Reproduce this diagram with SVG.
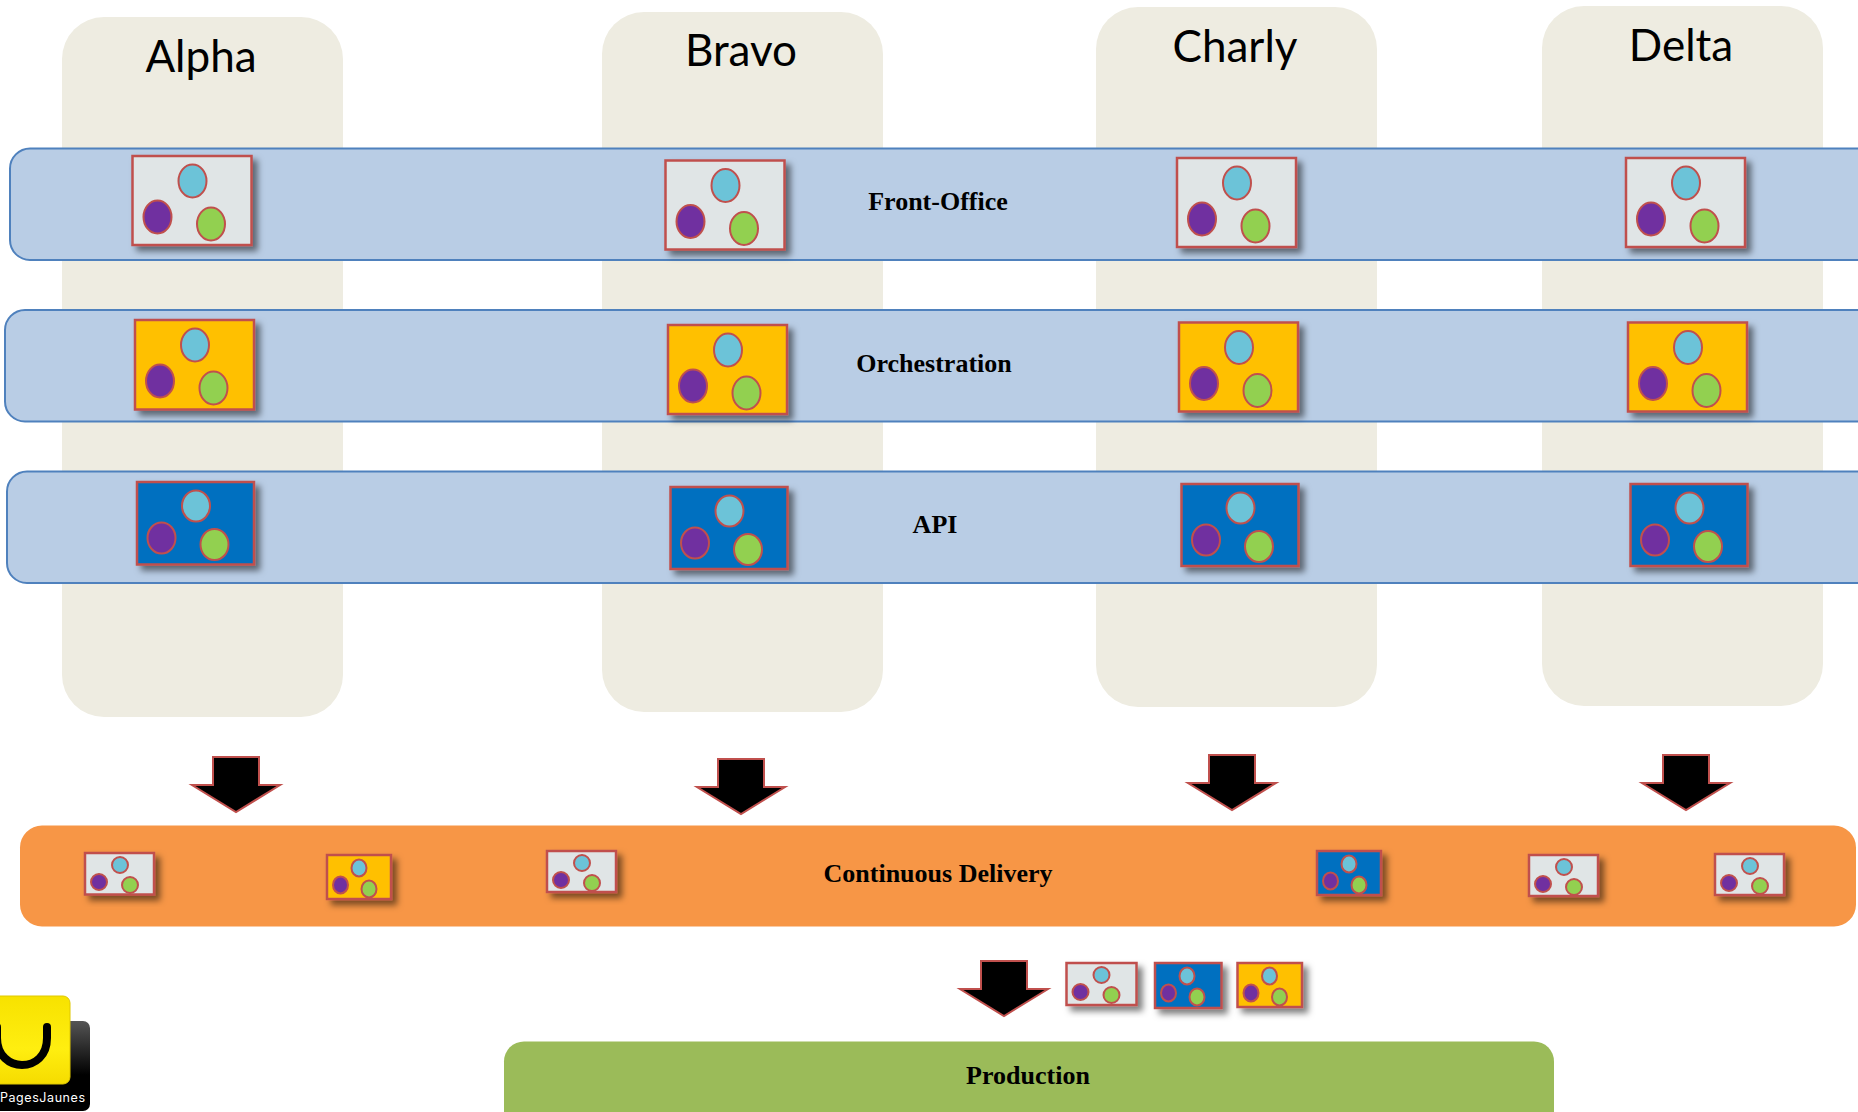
<svg xmlns="http://www.w3.org/2000/svg" width="1858" height="1112" viewBox="0 0 1858 1112">
<style>
.col{fill:#EEECE1}
.band{fill:#B9CDE5;stroke:#4F81BD;stroke-width:2}
.box{stroke:#C0504D;stroke-width:2.5;filter:url(#sh)}
.grey{fill:#E0E5E6}.gold{fill:#FFC000}.blue{fill:#0070C0}
.c{fill:#6CC3D8;stroke:#C0504D;stroke-width:2}
.p{fill:#7030A0;stroke:#C0504D;stroke-width:2}
.g{fill:#92D050;stroke:#C0504D;stroke-width:2}
.arrow{fill:#000;stroke:#C0504D;stroke-width:2}
.title{font-family:Lato,"Liberation Sans",sans-serif;font-size:44px;fill:#000;text-anchor:middle}
.label{font-family:"Liberation Serif",serif;font-weight:bold;font-size:26px;fill:#000;text-anchor:middle}
</style>
<defs>
<filter id="sh" x="-20%" y="-20%" width="150%" height="150%"><feDropShadow dx="5" dy="5" stdDeviation="3" flood-color="#000" flood-opacity="0.5"/></filter>
<linearGradient id="blk" x1="0" y1="0" x2="0" y2="1"><stop offset="0" stop-color="#555"/><stop offset="0.6" stop-color="#000"/></linearGradient>
<linearGradient id="yel" x1="0" y1="0" x2="0" y2="1"><stop offset="0" stop-color="#F7E200"/><stop offset="0.6" stop-color="#FFEE10"/><stop offset="1" stop-color="#F5DC00"/></linearGradient>
<g id="big"><ellipse class="c" cx="60" cy="25" rx="14" ry="16.5"/><ellipse class="p" cx="25" cy="61" rx="14" ry="16.5"/><ellipse class="g" cx="78.500" cy="68" rx="14" ry="16.5"/></g>
<g id="api"><ellipse class="c" cx="59" cy="24" rx="14" ry="15.5"/><ellipse class="p" cx="24.500" cy="56" rx="14" ry="15.5"/><ellipse class="g" cx="77.500" cy="62.500" rx="14" ry="15.5"/></g>
<g id="small"><ellipse class="c" cx="35" cy="12" rx="8" ry="8"/><ellipse class="p" cx="14" cy="29" rx="8" ry="8"/><ellipse class="g" cx="45" cy="32" rx="8" ry="8"/></g>
<g id="tall"><ellipse class="c" cx="32" cy="13" rx="7.5" ry="8.5"/><ellipse class="p" cx="13.5" cy="30" rx="7.5" ry="8.5"/><ellipse class="g" cx="42" cy="34" rx="7.5" ry="8.5"/></g>
<path id="arr" d="M-23-56H23V-28H44L0-1L-44-28H-23Z"/>
</defs>

<g id="column-alpha"><rect class="col" x="62" y="17" width="281" height="700" rx="42"/><text class="title" x="201" y="72">Alpha</text></g>
<g id="column-bravo"><rect class="col" x="602" y="12" width="281" height="700" rx="42"/><text class="title" x="741" y="66">Bravo</text></g>
<g id="column-charly"><rect class="col" x="1096" y="7" width="281" height="700" rx="42"/><text class="title" x="1235" y="62">Charly</text></g>
<g id="column-delta"><rect class="col" x="1542" y="6" width="281" height="700" rx="42"/><text class="title" x="1681" y="61">Delta</text></g>

<g id="band-front-office"><rect class="band" x="10" y="148.500" width="1880" height="111.500" rx="20"/><text class="label" x="938" y="210">Front-Office</text></g>
<g id="band-orchestration"><rect class="band" x="5" y="310" width="1890" height="111.500" rx="20"/><text class="label" x="934" y="372">Orchestration</text></g>
<g id="band-api"><rect class="band" x="7" y="471.500" width="1890" height="111.500" rx="20"/><text class="label" x="935" y="533">API</text></g>
<g id="band-delivery"><rect x="20" y="825.500" width="1836" height="101" rx="22" fill="#F79646"/><text class="label" x="938" y="882">Continuous Delivery</text></g>
<g id="band-production"><rect x="504" y="1041.500" width="1050" height="100" rx="20" fill="#9BBB59"/><text class="label" x="1028" y="1084">Production</text></g>

<g id="connectors">
<use class="arrow" href="#arr" x="236" y="813"/>
<use class="arrow" href="#arr" x="741" y="815"/>
<use class="arrow" href="#arr" x="1232" y="811"/>
<use class="arrow" href="#arr" x="1686" y="811"/>
<use class="arrow" href="#arr" x="1004" y="1017"/>
</g>

<g id="fo-alpha" transform="translate(132.500 156)"><rect class="box grey" width="119" height="89"/><use href="#big"/></g>
<g id="fo-bravo" transform="translate(665.500 160.500)"><rect class="box grey" width="119" height="89"/><use href="#big"/></g>
<g id="fo-charly" transform="translate(1177 158)"><rect class="box grey" width="119" height="89"/><use href="#big"/></g>
<g id="fo-delta" transform="translate(1626 158)"><rect class="box grey" width="119" height="89"/><use href="#big"/></g>

<g id="orch-alpha" transform="translate(135 320)"><rect class="box gold" width="119" height="89.500"/><use href="#big"/></g>
<g id="orch-bravo" transform="translate(668 325)"><rect class="box gold" width="119" height="89"/><use href="#big"/></g>
<g id="orch-charly" transform="translate(1179 322.500)"><rect class="box gold" width="119" height="89"/><use href="#big"/></g>
<g id="orch-delta" transform="translate(1628 322.500)"><rect class="box gold" width="119" height="89"/><use href="#big"/></g>

<g id="api-alpha" transform="translate(137 482)"><rect class="box blue" width="117" height="82.500"/><use href="#api"/></g>
<g id="api-bravo" transform="translate(670.500 487)"><rect class="box blue" width="117" height="82"/><use href="#api"/></g>
<g id="api-charly" transform="translate(1181.500 484)"><rect class="box blue" width="117" height="82"/><use href="#api"/></g>
<g id="api-delta" transform="translate(1630.500 484)"><rect class="box blue" width="117" height="82"/><use href="#api"/></g>

<g id="cd-1" transform="translate(85 853)"><rect class="box grey" width="69" height="41.500"/><use href="#small"/></g>
<g id="cd-2" transform="translate(327 855)"><rect class="box gold" width="64" height="44"/><use href="#tall"/></g>
<g id="cd-3" transform="translate(547 851)"><rect class="box grey" width="69" height="41"/><use href="#small"/></g>
<g id="cd-4" transform="translate(1317 851)"><rect class="box blue" width="64" height="44"/><use href="#tall"/></g>
<g id="cd-5" transform="translate(1529 855)"><rect class="box grey" width="69" height="41"/><use href="#small"/></g>
<g id="cd-6" transform="translate(1715 854)"><rect class="box grey" width="69" height="41"/><use href="#small"/></g>

<g id="prod-1" transform="translate(1066.500 963)"><rect class="box grey" width="70" height="42"/><use href="#small"/></g>
<g id="prod-2" transform="translate(1155 963)"><rect class="box blue" width="66.500" height="45"/><use href="#tall" transform="translate(0 0)"/></g>
<g id="prod-3" transform="translate(1237.500 963)"><rect class="box gold" width="64.500" height="44"/><use href="#tall"/></g>

<g id="logo">
<rect x="-30" y="1021" width="120" height="90" rx="7" fill="url(#blk)"/>
<rect x="-30" y="996" width="100" height="88" rx="7" fill="url(#yel)" stroke="#E0C800" stroke-width="1"/>
<path d="M-3 1027V1038C-3 1056 10 1065 22 1065C35 1065 47 1056 47 1038V1027" fill="none" stroke="#000" stroke-width="8" stroke-linecap="round"/>
<text x="0" y="1102" font-family="Inter,'Liberation Sans',sans-serif" font-size="12.500" fill="#fff" textLength="85">PagesJaunes</text>
</g>
</svg>
